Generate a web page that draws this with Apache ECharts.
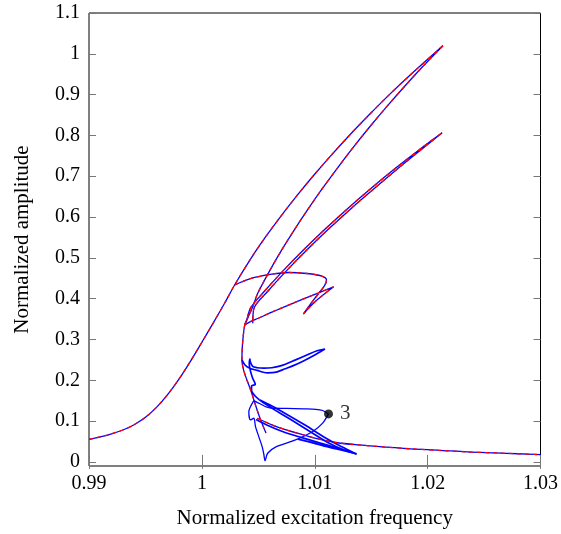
<!DOCTYPE html>
<html>
<head>
<meta charset="utf-8">
<script src="https://cdn.jsdelivr.net/npm/echarts@6/dist/echarts.min.js"></script>
<style>
  html, body { margin: 0; padding: 0; background: #fff; }
  #chart { width: 561px; height: 534px; }
</style>
</head>
<body>
<div id="chart"></div>
<script>
// Tick positions
const xTicks = [0.99, 1.00, 1.01, 1.02, 1.03];
const yTicks = [0, 0.1, 0.2, 0.3, 0.4, 0.5, 0.6, 0.7, 0.8, 0.9, 1.0, 1.1];

// Resonance curve and stable upper branch up to the first peak
const upperBranch = [
  [0.990, 0.055], [0.991, 0.0612], [0.992, 0.0687], [0.993, 0.0782], [0.994, 0.0912],
  [0.995, 0.1092], [0.996, 0.1342], [0.997, 0.1662], [0.998, 0.2042], [0.999, 0.2472],
  [1.000, 0.2932], [1.001, 0.3402], [1.002, 0.3882], [1.0029, 0.4336], [1.00438, 0.50],
  [1.00561, 0.55], [1.00694, 0.60], [1.00835, 0.65], [1.00984, 0.70], [1.01141, 0.75],
  [1.01306, 0.80], [1.0148, 0.85], [1.01661, 0.90], [1.01853, 0.95], [1.02135, 1.0198]
];

// Unstable branch returning from the peak down past the fold
const returnBranch = [
  [1.02135, 1.0198], [1.01961, 0.97], [1.01795, 0.92], [1.01636, 0.87], [1.01484, 0.82],
  [1.01339, 0.77], [1.01201, 0.72], [1.01068, 0.67], [1.00942, 0.62], [1.00822, 0.57],
  [1.00709, 0.52], [1.00604, 0.47], [1.00495, 0.4133], [1.00451, 0.3805], [1.0041, 0.355],
  [1.0038, 0.335], [1.00367, 0.31], [1.00358, 0.28], [1.00355, 0.25], [1.0037, 0.225],
  [1.0040, 0.200], [1.0044, 0.170], [1.0048, 0.135], [1.0052, 0.103], [1.00568, 0.0708]
];

// Secondary branch reaching the second peak and back
const secondBranch = [
  [1.00378, 0.3356], [1.0040, 0.350], [1.0043, 0.377], [1.0056, 0.42], [1.00725, 0.47],
  [1.00902, 0.52], [1.0109, 0.57], [1.01288, 0.62], [1.01497, 0.67], [1.01717, 0.72],
  [1.01949, 0.77], [1.02129, 0.8067],
  [1.01964, 0.77], [1.01742, 0.72], [1.01527, 0.67], [1.01318, 0.62], [1.0112, 0.57],
  [1.00932, 0.52], [1.00755, 0.47], [1.0059, 0.42], [1.0046, 0.375], [1.00451, 0.3398]
];

// Loop leaving the upper branch near 0.43
const kinkLoop = [
  [1.0029, 0.4336], [1.0043, 0.4492], [1.0062, 0.460], [1.0077, 0.4642], [1.0093, 0.4617],
  [1.01057, 0.4558], [1.01104, 0.4458], [1.01088, 0.4325], [1.0099, 0.397], [1.00899, 0.3625],
  [1.0100, 0.392], [1.01167, 0.4292], [1.0099, 0.4095], [1.0080, 0.388], [1.0062, 0.367],
  [1.0050, 0.352], [1.00426, 0.3433], [1.00378, 0.3356]
];

// Stable lower branch
const lowerBranch = [
  [1.0049, 0.107], [1.0062, 0.091], [1.00746, 0.0784], [1.0090, 0.066], [1.0104, 0.0556],
  [1.0120, 0.047], [1.0139, 0.0416], [1.0160, 0.037], [1.0185, 0.032], [1.0210, 0.0285],
  [1.0235, 0.0245], [1.0260, 0.022], [1.0280, 0.020], [1.0300, 0.0178]
];

// Narrow loop near 0.25
const smallLoop = [
  [1.00355, 0.25], [1.0038, 0.238], [1.0042, 0.230], [1.0049, 0.2242], [1.0058, 0.2183],
  [1.0066, 0.220], [1.0073, 0.2275], [1.0081, 0.236], [1.0090, 0.2475], [1.0100, 0.262],
  [1.0106, 0.272], [1.0109, 0.2767], [1.0102, 0.2725], [1.0093, 0.262], [1.0083, 0.250],
  [1.0074, 0.2392], [1.0068, 0.234], [1.0062, 0.2308], [1.0055, 0.2298], [1.0049, 0.2308],
  [1.0045, 0.234], [1.00428, 0.246], [1.00426, 0.2517], [1.00420, 0.240], [1.0043, 0.223],
  [1.0045, 0.205], [1.00473, 0.190], [1.00440, 0.186], [1.0044, 0.175], [1.0047, 0.162],
  [1.0051, 0.152]
];

// Thin loops running down to the lower right
const wedgeA = [
  [1.0051, 0.152], [1.0062, 0.137], [1.0075, 0.117], [1.0091, 0.091], [1.0110, 0.058],
  [1.0124, 0.037], [1.0137, 0.019], [1.0126, 0.029], [1.0112, 0.047], [1.0095, 0.076],
  [1.0078, 0.105], [1.0063, 0.130], [1.0055, 0.144], [1.0051, 0.152]
];
const wedgeB = [
  [1.0048, 0.104], [1.0058, 0.090], [1.0072, 0.074], [1.0088, 0.060], [1.0104, 0.047],
  [1.0120, 0.034], [1.0137, 0.020], [1.0125, 0.028], [1.0110, 0.038], [1.0095, 0.049],
  [1.0085, 0.056]
];

// Branch ending at the labelled point and the cusp below it
const pointBranch = [
  [1.0046, 0.150], [1.0052, 0.142], [1.0057, 0.135], [1.0063, 0.1315], [1.0075, 0.131],
  [1.0090, 0.130], [1.0101, 0.129], [1.0107, 0.126], [1.01122, 0.1176]
];
const cuspBranch = [
  [1.01122, 0.1176], [1.0107, 0.095], [1.0098, 0.074], [1.0083, 0.054], [1.0066, 0.0375],
  [1.00583, 0.0213], [1.0056, 0.003], [1.00548, 0.020], [1.00534, 0.0375], [1.00504, 0.062],
  [1.00475, 0.0865], [1.0046, 0.107], [1.0043, 0.103], [1.00416, 0.123], [1.0043, 0.135],
  [1.0046, 0.150]
];

const markedPoint = [[1.01122, 0.1176]];
const markedLabel = '3';

const BLUE = '#0000ff';
const RED = '#ff0000';
const FONT = 'Liberation Serif';

const blueThin = [upperBranch, returnBranch, secondBranch, kinkLoop, lowerBranch, pointBranch, cuspBranch];
const blueThick = [smallLoop, wedgeA, wedgeB];
const redDashed = [upperBranch, returnBranch, secondBranch, kinkLoop, lowerBranch];

function lineSeries(data, color, width, type, z) {
  return {
    type: 'line', data: data, showSymbol: false, symbol: 'none', smooth: 0.3,
    lineStyle: { color: color, width: width, type: type },
    xAxisIndex: 0, yAxisIndex: 0, z: z, silent: true, clip: true
  };
}

const series = [];
blueThin.forEach(d => series.push(lineSeries(d, BLUE, 1.3, 'solid', 2)));
blueThick.forEach(d => series.push(lineSeries(d, BLUE, 1.7, 'solid', 2)));
redDashed.forEach(d => series.push(lineSeries(d, RED, 1.3, [4, 4], 3)));
series.push({
  type: 'scatter', data: markedPoint, symbolSize: 9, z: 5,
  itemStyle: { color: '#000' },
  label: {
    show: true, formatter: markedLabel, position: 'right', distance: 7,
    fontFamily: FONT, fontSize: 21, color: '#000'
  }
});

const tickStyle = { inside: true, length: 7, lineStyle: { color: '#777', width: 1 } };
const labelStyle = { fontFamily: FONT, fontSize: 20, color: '#000' };

const chart = echarts.init(document.getElementById('chart'), null, { renderer: 'canvas' });
chart.setOption({
  animation: false,
  backgroundColor: '#fff',
  grid: { left: 89, right: 19, top: 13, bottom: 68, show: true, borderColor: '#000', borderWidth: 1 },
  xAxis: [
    {
      type: 'value', min: 0.99, max: 1.03, position: 'bottom',
      axisLine: { show: false }, splitLine: { show: false },
      axisTick: Object.assign({ customValues: xTicks }, tickStyle),
      axisLabel: Object.assign({ customValues: xTicks, margin: 8,
        formatter: v => String(+(+v).toFixed(2)) }, labelStyle),
      name: 'Normalized excitation frequency', nameLocation: 'middle', nameGap: 42,
      nameTextStyle: { fontFamily: FONT, fontSize: 21, color: '#000' }
    },
    {
      type: 'value', min: 0.99, max: 1.03, position: 'top',
      axisLine: { show: false }, splitLine: { show: false },
      axisTick: Object.assign({ customValues: xTicks }, tickStyle),
      axisLabel: { show: false }
    }
  ],
  yAxis: [
    {
      type: 'value', min: -0.01, max: 1.1, position: 'left',
      axisLine: { show: false }, splitLine: { show: false },
      axisTick: Object.assign({ customValues: yTicks }, tickStyle),
      axisLabel: Object.assign({ customValues: yTicks, margin: 9,
        formatter: v => String(+(+v).toFixed(1)) }, labelStyle),
      name: 'Normalized amplitude', nameLocation: 'middle', nameGap: 56,
      nameTextStyle: { fontFamily: FONT, fontSize: 21, color: '#000' }
    },
    {
      type: 'value', min: -0.01, max: 1.1, position: 'right',
      axisLine: { show: false }, splitLine: { show: false },
      axisTick: Object.assign({ customValues: yTicks }, tickStyle),
      axisLabel: { show: false }
    }
  ],
  series: series
});
</script>
</body>
</html>
